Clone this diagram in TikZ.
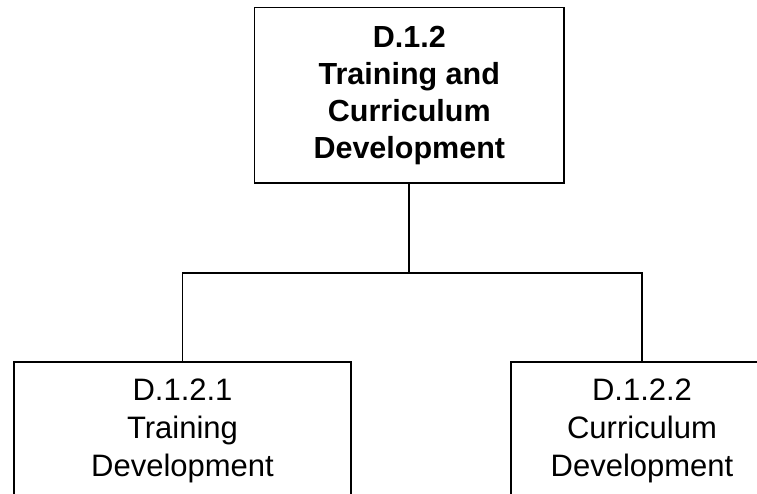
\documentclass[tikz,border=0pt]{standalone}
\usepackage{fontspec}
\setmainfont{Liberation Sans}
\usetikzlibrary{positioning}

\begin{document}
\begin{tikzpicture}[x=1pt,y=-1pt,line width=1.8pt,
  head/.style={draw,align=center,minimum width=309.5pt,minimum height=175.5pt,
    inner sep=0pt,font=\fontsize{30.5}{37}\selectfont\bfseries},
  leaf/.style={draw,align=center,anchor=north,minimum height=138pt,
    inner sep=0pt,font=\fontsize{31}{38}\selectfont}]
\path[use as bounding box] (0,0) rectangle (757,494);
\clip (0,0) rectangle (757,494);
\node[head] (d12) at (409.3,95.2) {D.1.2\\Training and\\Curriculum\\Development};
\node[leaf,minimum width=337pt] (d121) at (182.5,361) {D.1.2.1\\Training\\Development};
\node[leaf,minimum width=262pt] (d122) at (642,361) {D.1.2.2\\Curriculum\\Development};
\draw (d12.south) -- ++(0,89) coordinate (split);
\draw (split) -| (d121.north);
\draw (split) -| (d122.north);
\end{tikzpicture}
\end{document}
